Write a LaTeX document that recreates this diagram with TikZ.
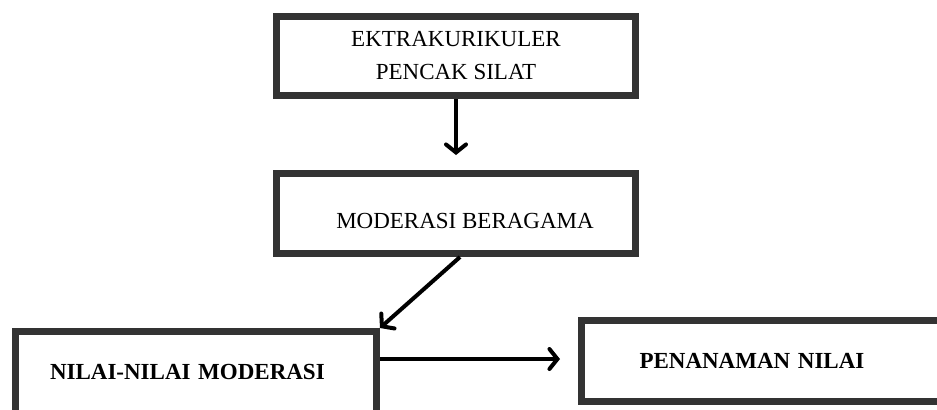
\documentclass[tikz,border=0pt]{standalone}
\usepackage{fontspec}
\setmainfont{Liberation Serif}
\usetikzlibrary{arrows.meta}
\definecolor{garis}{HTML}{333333}
\begin{document}
\begin{tikzpicture}[x=0.5pt,y=-0.5pt,
    kotak/.style={draw=garis,line width=3.5pt,fill=white,inner sep=0pt,font=\fontsize{11.5}{16.5}\selectfont,align=center},
    tebal/.style={font=\fontsize{11.5}{13}\bfseries,align=left,anchor=west},
    panah/.style={line width=2pt,-{Straight Barb[length=4pt,width=10pt,line cap=round]}}]
  \useasboundingbox (0,0) rectangle (937,409);
  \node[kotak,minimum width=179.5pt,minimum height=39.5pt] (ekstra) at (456,56) {EKTRAKURIKULER\\PENCAK SILAT};
  \node[kotak,minimum width=179.5pt,minimum height=40pt,text height=15.5pt] (moderasi) at (456,213.5) {\hspace*{9pt}MODERASI BERAGAMA};
  \node[kotak,tebal,minimum height=50pt,text depth=9.5pt,text width=146pt,inner xsep=17.25pt] (nilai) at (12,381.5) {NILAI-NILAI MODERASI};
  \node[kotak,tebal,minimum height=40.5pt,text width=140pt,inner xsep=29pt] (tanam) at (578,361) {PENANAMAN NILAI};
  % panah antar kotak
  \draw[panah,shorten >=7.5pt] (ekstra) -- (moderasi);
  \draw[panah] ([xshift=2pt]moderasi.south) -- (nilai.north east);
  \draw[panah,shorten >=9pt] (380,359) -- (380,359 -| tanam.west);
\end{tikzpicture}
\end{document}
